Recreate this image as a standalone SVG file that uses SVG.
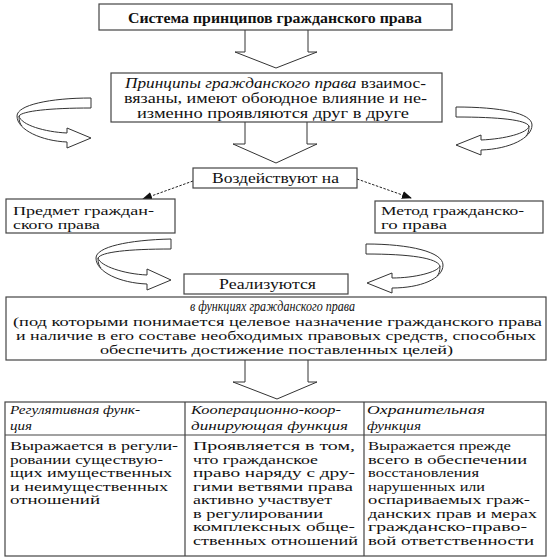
<svg xmlns="http://www.w3.org/2000/svg" width="548" height="559" viewBox="0 0 548 559">
<style>
.box{fill:#fff;stroke:#444;stroke-width:1.2}
.blk{fill:#fff;stroke:#333;stroke-width:1}
.t{font-family:"Liberation Serif","Times New Roman",serif;font-size:15px;fill:#111}
.s{font-size:13.5px}
.c{font-size:12.5px}
.h{font-size:13.5px}
.b{font-weight:bold}
.i{font-style:italic}
.dash{fill:none;stroke:#222;stroke-width:1;stroke-dasharray:2.5,1.5}
</style>
<defs>
<marker id="ah" markerWidth="10" markerHeight="8" refX="9" refY="4" orient="auto" markerUnits="userSpaceOnUse">
<path d="M0,0 L10,4 L0,8 Z" fill="#111"/>
</marker>
</defs>
<rect width="548" height="559" fill="#fff"/>

<g id="connectors">
<path class="blk" d="M245,30 V52 H235 L276,68 L317,52 H308 V30"/>
<path class="blk" d="M245,122 V144 H233 L276,163 L317,144 H307 V122"/>
<path class="blk" d="M245,360 V382 H233 L277,399 L317,382 H308 V360"/>
<path class="dash" d="M193,181 L143,199" marker-end="url(#ah)"/>
<path class="dash" d="M357,179 L411,198" marker-end="url(#ah)"/>
<path class="blk" d="M91,98 C50,98 17,105 17,116 C17,130 42,141 67,142 L67,148 L91,138 L67,128 L67,133 C45,132 21,125 19,116 C22,111 50,108 91,108 Z"/>
<path class="blk" d="M19,116 C19,121 20,124 22,126"/>
<path class="blk" d="M456,107 C500,107 532,113 532,125 C532,138 510,149 481,150 L481,155 L456,145 L481,135 L481,140 C505,139 528,133 529,126 C526,120 500,117 456,117 Z"/>
<path class="blk" d="M529,126 C529,131 528,134 526,136"/>
<path class="blk" d="M171,239 C128,240 96,247 96,258 C96,272 120,283 147,284 L147,290 L171,280 L147,269 L147,275 C124,274 100,266 98,258 C101,252 128,249 171,249 Z"/>
<path class="blk" d="M98,258 C98,263 99,266 101,268"/>
<path class="blk" d="M366,244 C410,244 443,252 443,265 C443,279 420,288 392,288 L392,293 L367,283 L392,273 L392,278 C415,278 438,272 440,266 C437,258 410,254 366,254 Z"/>
<path class="blk" d="M440,266 C440,271 439,274 437,276"/>
</g>

<g id="node-system">
<rect class="box" x="99" y="4" width="353" height="26"/>
<text class="t b" x="128" y="23" textLength="294" lengthAdjust="spacingAndGlyphs">Система принципов гражданского права</text>
</g>

<g id="node-principles">
<rect class="box" x="111" y="73" width="331" height="49"/>
<text class="t" x="125" y="88" textLength="301" lengthAdjust="spacingAndGlyphs"><tspan class="i">Принципы гражданского права</tspan> взаимос-</text>
<text class="t" x="124" y="103" textLength="303" lengthAdjust="spacingAndGlyphs">вязаны, имеют обоюдное влияние и не-</text>
<text class="t" x="137" y="118" textLength="272" lengthAdjust="spacingAndGlyphs">изменно проявляются друг в друге</text>
</g>

<g id="node-act">
<rect class="box" x="193" y="168" width="164" height="20"/>
<text class="t" x="212" y="183" textLength="127" lengthAdjust="spacingAndGlyphs">Воздействуют на</text>
</g>

<g id="node-subject">
<rect class="box" x="6" y="199" width="169" height="34"/>
<text class="t s" x="13" y="215" textLength="141" lengthAdjust="spacingAndGlyphs">Предмет граждан-</text>
<text class="t s" x="13" y="229" textLength="87" lengthAdjust="spacingAndGlyphs">ского права</text>
</g>

<g id="node-method">
<rect class="box" x="375" y="201" width="168" height="32"/>
<text class="t s" x="381" y="215" textLength="143" lengthAdjust="spacingAndGlyphs">Метод гражданско-</text>
<text class="t s" x="381" y="229" textLength="66" lengthAdjust="spacingAndGlyphs">го права</text>
</g>

<g id="node-realize">
<rect class="box" x="184" y="274" width="164" height="20"/>
<text class="t" x="219" y="289" textLength="97" lengthAdjust="spacingAndGlyphs">Реализуются</text>
</g>

<g id="node-functions">
<rect class="box" x="6" y="297" width="540" height="63"/>
<text class="t i" x="190" y="311" font-size="12.5" textLength="165" lengthAdjust="spacingAndGlyphs">в функциях гражданского права</text>
<text class="t s" x="13" y="326" textLength="529" lengthAdjust="spacingAndGlyphs">(под которыми понимается целевое назначение гражданского права</text>
<text class="t s" x="16" y="340" textLength="520" lengthAdjust="spacingAndGlyphs">и наличие в его составе необходимых правовых средств, способных</text>
<text class="t s" x="100" y="354" textLength="353" lengthAdjust="spacingAndGlyphs">обеспечить достижение поставленных целей)</text>
</g>

<g id="node-table">
<rect class="box" x="5" y="402" width="541" height="154"/>
<line x1="5" y1="435" x2="546" y2="435" stroke="#444" stroke-width="1.2"/>
<line x1="185" y1="402" x2="185" y2="556" stroke="#444" stroke-width="1.2"/>
<line x1="364" y1="402" x2="364" y2="556" stroke="#444" stroke-width="1.2"/>

<text class="t i h" x="10" y="414" textLength="130" lengthAdjust="spacingAndGlyphs">Регулятивная функ-</text>
<text class="t i h" x="10" y="430" textLength="22" lengthAdjust="spacingAndGlyphs">ция</text>
<text class="t i h" x="191" y="414" textLength="150" lengthAdjust="spacingAndGlyphs">Кооперационно-коор-</text>
<text class="t i h" x="191" y="430" textLength="157" lengthAdjust="spacingAndGlyphs">динирующая функция</text>
<text class="t i h" x="367" y="414" textLength="118" lengthAdjust="spacingAndGlyphs">Охранительная</text>
<text class="t i h" x="367" y="430" textLength="54" lengthAdjust="spacingAndGlyphs">функция</text>

<text class="t c" x="10" y="450" textLength="168" lengthAdjust="spacingAndGlyphs">Выражается в регули-</text>
<text class="t c" x="10" y="463.5" textLength="153" lengthAdjust="spacingAndGlyphs">ровании существую-</text>
<text class="t c" x="10" y="477" textLength="162" lengthAdjust="spacingAndGlyphs">щих имущественных</text>
<text class="t c" x="10" y="490.5" textLength="158" lengthAdjust="spacingAndGlyphs">и неимущественных</text>
<text class="t c" x="10" y="504" textLength="90" lengthAdjust="spacingAndGlyphs">отношений</text>

<text class="t c" x="193" y="450" textLength="162" lengthAdjust="spacingAndGlyphs">Проявляется в том,</text>
<text class="t c" x="193" y="463.5" textLength="125" lengthAdjust="spacingAndGlyphs">что гражданское</text>
<text class="t c" x="193" y="477" textLength="162" lengthAdjust="spacingAndGlyphs">право наряду с дру-</text>
<text class="t c" x="193" y="490.5" textLength="160" lengthAdjust="spacingAndGlyphs">гими ветвями права</text>
<text class="t c" x="193" y="504" textLength="139" lengthAdjust="spacingAndGlyphs">активно участвует</text>
<text class="t c" x="193" y="517.5" textLength="130" lengthAdjust="spacingAndGlyphs">в регулировании</text>
<text class="t c" x="193" y="531" textLength="162" lengthAdjust="spacingAndGlyphs">комплексных обще-</text>
<text class="t c" x="193" y="544.5" textLength="165" lengthAdjust="spacingAndGlyphs">ственных отношений</text>

<text class="t c" x="368" y="450" textLength="143" lengthAdjust="spacingAndGlyphs">Выражается прежде</text>
<text class="t c" x="368" y="463.5" textLength="159" lengthAdjust="spacingAndGlyphs">всего в обеспечении</text>
<text class="t c" x="368" y="477" textLength="111" lengthAdjust="spacingAndGlyphs">восстановления</text>
<text class="t c" x="368" y="490.5" textLength="117" lengthAdjust="spacingAndGlyphs">нарушенных или</text>
<text class="t c" x="368" y="504" textLength="162" lengthAdjust="spacingAndGlyphs">оспариваемых граж-</text>
<text class="t c" x="368" y="517.5" textLength="169" lengthAdjust="spacingAndGlyphs">данских прав и мерах</text>
<text class="t c" x="368" y="531" textLength="159" lengthAdjust="spacingAndGlyphs">гражданско-право-</text>
<text class="t c" x="368" y="544.5" textLength="166" lengthAdjust="spacingAndGlyphs">вой ответственности</text>
</g>
</svg>
